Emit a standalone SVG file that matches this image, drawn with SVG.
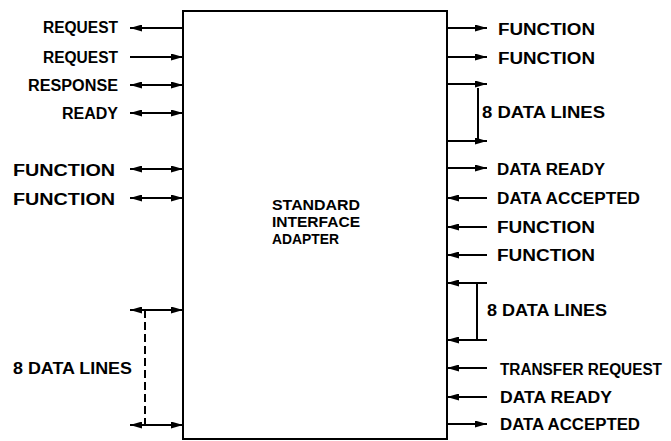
<svg xmlns="http://www.w3.org/2000/svg" width="671" height="441" viewBox="0 0 671 441">
  <defs>
    <marker id="ah" viewBox="0 0 12 7" markerUnits="userSpaceOnUse" markerWidth="12" markerHeight="7" refX="12" refY="3.5" orient="auto-start-reverse">
      <path d="M0,0 L12,3.5 L0,7 z" fill="#000"/>
    </marker>
    <style>
      text { font-family: "Liberation Sans", Arial, sans-serif; font-weight: bold; font-size: 16px; fill: #000; }
      .l { text-anchor: end; }
      .m { font-size: 15px; }
      .c { stroke: #000; stroke-width: 2; fill: none; }
      .e { marker-end: url(#ah); }
      .s { marker-start: url(#ah); }
      .d { stroke-dasharray: 8 4; }
    </style>
  </defs>
  <rect width="671" height="441" fill="#fff"/>

  <g id="adapter">
    <rect x="183" y="11" width="264" height="428" fill="#fff" stroke="#000" stroke-width="2"/>
    <text class="m" x="272" y="210" textLength="88" lengthAdjust="spacingAndGlyphs">STANDARD</text>
    <text class="m" x="272" y="227" textLength="88" lengthAdjust="spacingAndGlyphs">INTERFACE</text>
    <text class="m" x="272" y="244" textLength="67" lengthAdjust="spacingAndGlyphs">ADAPTER</text>
  </g>

  <g id="connectors">
    <line class="c s" x1="130" y1="28" x2="183" y2="28"/>
    <line class="c e" x1="130" y1="57" x2="183" y2="57"/>
    <line class="c s e" x1="130" y1="85" x2="183" y2="85"/>
    <line class="c s e" x1="130" y1="113" x2="183" y2="113"/>
    <line class="c s e" x1="130" y1="169" x2="183" y2="169"/>
    <line class="c s e" x1="130" y1="198" x2="183" y2="198"/>
    <line class="c s e" x1="130" y1="310" x2="183" y2="310"/>
    <line class="c s e" x1="130" y1="425" x2="183" y2="425"/>
    <line class="c d" x1="145" y1="310" x2="145" y2="425"/>
    <line class="c e" x1="447" y1="28" x2="487" y2="28"/>
    <line class="c e" x1="447" y1="57" x2="487" y2="57"/>
    <line class="c e" x1="447" y1="84" x2="487" y2="84"/>
    <line class="c e" x1="447" y1="141" x2="487" y2="141"/>
    <line class="c" x1="478" y1="88" x2="478" y2="141"/>
    <line class="c e" x1="447" y1="168" x2="487" y2="168"/>
    <line class="c s" x1="447" y1="198" x2="487" y2="198"/>
    <line class="c s" x1="447" y1="227" x2="487" y2="227"/>
    <line class="c s" x1="447" y1="255" x2="487" y2="255"/>
    <line class="c s" x1="447" y1="283" x2="487" y2="283"/>
    <line class="c s" x1="447" y1="340" x2="487" y2="340"/>
    <line class="c" x1="477" y1="283" x2="477" y2="340"/>
    <line class="c s" x1="447" y1="368" x2="487" y2="368"/>
    <line class="c s" x1="447" y1="397" x2="487" y2="397"/>
    <line class="c e" x1="447" y1="424" x2="487" y2="424"/>
  </g>

  <g id="left-labels">
    <text class="l" x="118" y="33" textLength="75" lengthAdjust="spacingAndGlyphs">REQUEST</text>
    <text class="l" x="118" y="63" textLength="75" lengthAdjust="spacingAndGlyphs">REQUEST</text>
    <text class="l" x="118" y="91" textLength="90" lengthAdjust="spacingAndGlyphs">RESPONSE</text>
    <text class="l" x="118" y="119" textLength="56" lengthAdjust="spacingAndGlyphs">READY</text>
    <text class="l" x="115" y="176" textLength="102" lengthAdjust="spacingAndGlyphs">FUNCTION</text>
    <text class="l" x="115" y="205" textLength="102" lengthAdjust="spacingAndGlyphs">FUNCTION</text>
    <text x="13" y="374" textLength="119" lengthAdjust="spacingAndGlyphs">8 DATA LINES</text>
  </g>

  <g id="right-labels">
    <text x="498" y="35" textLength="97" lengthAdjust="spacingAndGlyphs">FUNCTION</text>
    <text x="498" y="64" textLength="97" lengthAdjust="spacingAndGlyphs">FUNCTION</text>
    <text x="482" y="118" textLength="123" lengthAdjust="spacingAndGlyphs">8 DATA LINES</text>
    <text x="497" y="175" textLength="108" lengthAdjust="spacingAndGlyphs">DATA READY</text>
    <text x="497" y="204" textLength="143" lengthAdjust="spacingAndGlyphs">DATA ACCEPTED</text>
    <text x="497" y="233" textLength="98" lengthAdjust="spacingAndGlyphs">FUNCTION</text>
    <text x="497" y="261" textLength="98" lengthAdjust="spacingAndGlyphs">FUNCTION</text>
    <text x="487" y="316" textLength="120" lengthAdjust="spacingAndGlyphs">8 DATA LINES</text>
    <text x="500" y="375" textLength="162" lengthAdjust="spacingAndGlyphs">TRANSFER REQUEST</text>
    <text x="500" y="403" textLength="112" lengthAdjust="spacingAndGlyphs">DATA READY</text>
    <text x="500" y="430" textLength="140" lengthAdjust="spacingAndGlyphs">DATA ACCEPTED</text>
  </g>
</svg>
